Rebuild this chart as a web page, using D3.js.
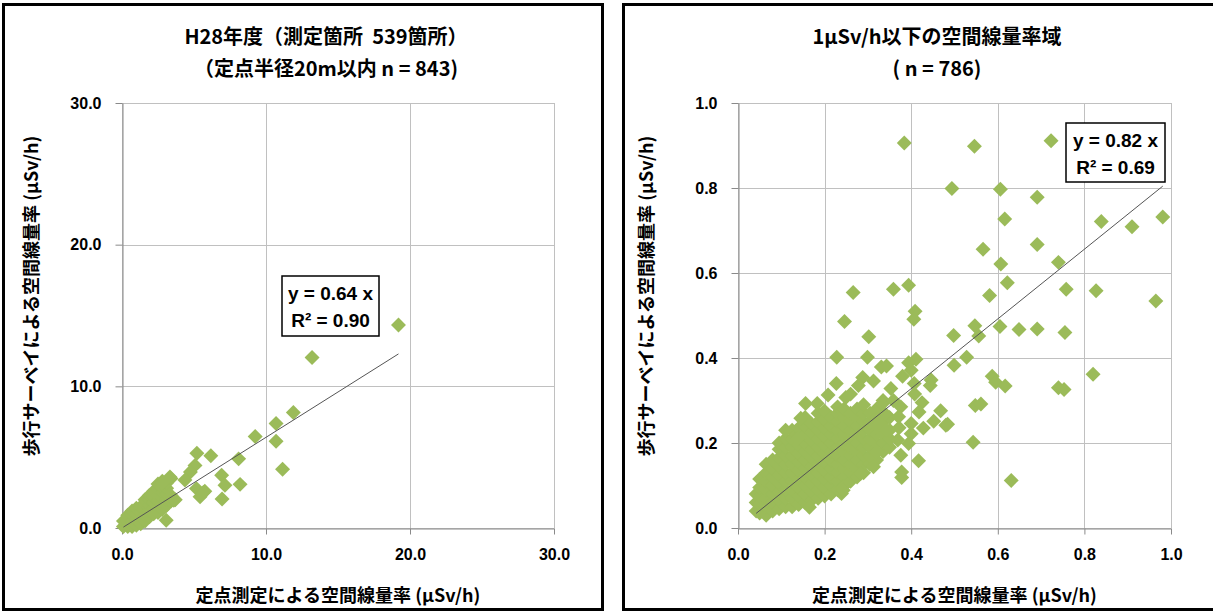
<!DOCTYPE html>
<html><head><meta charset="utf-8">
<script src="https://cdn.jsdelivr.net/npm/d3@7"></script>
<style>body{margin:0;background:#fff}svg{display:block}</style>
</head><body><svg id="c" width="1213" height="612"></svg>
<script>
// ---------- DATA ----------
const leftTicks = [0, 10, 20, 30];
const rightTicks = [0, 0.2, 0.4, 0.6, 0.8, 1.0];
const leftTitle = ["H28年度（測定箇所\u00a0\u00a0539箇所）", "（定点半径20m以内\u00a0n = 843)"];
const rightTitle = ["1μSv/h以下の空間線量率域", "( n = 786)"];
const xAxisTitle = "定点測定による空間線量率\u00a0(μSv/h)";
const yAxisTitle = "歩行サーベイによる空間線量率\u00a0(μSv/h)";
const leftFit = ["y = 0.64 x", "R² = 0.90"];
const rightFit = ["y = 0.82 x", "R² = 0.69"];
const leftSlope = 0.64;
const rightSlope = 0.82;

const leftOutliers = [
  [19.2,14.33],[13.2,12.04],[11.9,8.15],[10.7,7.38],[10.7,6.12],[11.15,4.15],
  [9.25,6.46],[8.1,4.88],[8.2,3.08],[6.92,3.72],[7.15,3.02],[6.95,2.05],
  [6.17,5.1],[5.2,5.28],[5.07,4.42],[4.75,3.95],[4.37,3.38],[5.17,2.78],
  [5.65,2.5],[5.42,2.2],[5.75,2.6],[3.33,3.6],[3.07,0.54],[3.6,1.96],[2.8,3.2]
];
// cluster near origin: [x, [y values]]
const leftCluster = [
  [0.1,[0.1,0.5]],[0.4,[0.1,0.5,0.9]],[0.7,[0.1,0.5,0.9,1.2]],
  [1.0,[0.2,0.6,1.0,1.4]],[1.3,[0.3,0.7,1.1,1.5]],[1.6,[0.5,0.9,1.3,1.7,2.0]],
  [1.9,[0.8,1.2,1.6,2.0,2.3]],[2.2,[1.0,1.4,1.8,2.2,2.6]],
  [2.5,[1.1,1.5,1.9,2.3,2.7,3.1]],[2.8,[1.3,1.7,2.1,2.5,2.9,3.3]],
  [3.1,[1.6,2.0,2.4,2.8,3.2]],[3.4,[1.9,2.3,3.5]],[3.7,[2.0]]
];

const rightOutliers = [
  [0.384,0.906],[0.546,0.898],[0.723,0.911],[0.494,0.799],[0.606,0.797],[0.691,0.778],
  [0.839,0.721],[0.981,0.732],[0.910,0.709],[0.616,0.727],[0.566,0.656],[0.691,0.667],
  [0.607,0.621],[0.740,0.625],[0.622,0.577],[0.758,0.562],[0.827,0.558],[0.965,0.534],
  [0.581,0.547],[0.394,0.571],[0.359,0.562],[0.266,0.554],[0.246,0.486],[0.409,0.510],
  [0.406,0.491],[0.302,0.450],[0.498,0.453],[0.547,0.476],[0.556,0.452],[0.605,0.474],
  [0.649,0.467],[0.691,0.468],[0.755,0.460],[0.528,0.402],[0.499,0.383],[0.820,0.362],
  [0.587,0.357],[0.595,0.343],[0.617,0.334],[0.740,0.330],[0.753,0.326],[0.548,0.288],
  [0.561,0.292],[0.543,0.202],[0.631,0.112],[0.228,0.402],[0.299,0.402],[0.227,0.340],
  [0.411,0.397],[0.394,0.389],[0.331,0.379],[0.343,0.381],[0.400,0.371],[0.380,0.357],
  [0.407,0.340],[0.408,0.315],[0.446,0.348],[0.444,0.335],[0.353,0.328],[0.313,0.346],
  [0.288,0.354],[0.278,0.335],[0.425,0.295],[0.418,0.273],[0.468,0.276],[0.484,0.244],
  [0.452,0.251],[0.428,0.235],[0.376,0.285],[0.340,0.268],[0.400,0.246],[0.372,0.236],
  [0.400,0.222],[0.376,0.171],[0.417,0.158],[0.378,0.132],[0.378,0.119],[0.394,0.199],
  [0.320,0.179],[0.313,0.144],[0.283,0.128],[0.243,0.097],[0.239,0.081],[0.165,0.049],
  [0.156,0.293],[0.183,0.293],[0.208,0.313],[0.110,0.230],[0.145,0.258],[0.137,0.210],
  [0.249,0.307],[0.260,0.315],[0.334,0.293],[0.328,0.246],[0.343,0.230],[0.369,0.207],
  [0.480,0.242],[0.243,0.089],[0.359,0.300],[0.371,0.262]
];
// dense cluster: [x, [y values]]
const rightCluster = [
  [0.042,[0.04,0.06,0.08]],
  [0.05,[0.035,0.055,0.075,0.095,0.115]],
  [0.065,[0.03,0.05,0.07,0.09,0.11,0.13,0.15]],
  [0.08,[0.04,0.06,0.08,0.10,0.12,0.14,0.16]],
  [0.095,[0.045,0.065,0.085,0.105,0.125,0.145,0.165,0.185,0.2]],
  [0.11,[0.05,0.07,0.09,0.11,0.13,0.15,0.17,0.19,0.21]],
  [0.125,[0.05,0.07,0.09,0.11,0.13,0.15,0.17,0.19,0.21,0.23]],
  [0.14,[0.055,0.075,0.095,0.115,0.135,0.155,0.175,0.195,0.215,0.235]],
  [0.155,[0.06,0.08,0.10,0.12,0.14,0.16,0.18,0.20,0.22,0.24,0.26]],
  [0.17,[0.065,0.085,0.105,0.125,0.145,0.165,0.185,0.205,0.225,0.245]],
  [0.185,[0.07,0.09,0.11,0.13,0.15,0.17,0.19,0.21,0.23,0.25,0.27]],
  [0.20,[0.075,0.095,0.115,0.135,0.155,0.175,0.195,0.215,0.235,0.255,0.275]],
  [0.215,[0.08,0.10,0.12,0.14,0.16,0.18,0.20,0.22,0.24,0.26]],
  [0.23,[0.09,0.11,0.13,0.15,0.17,0.19,0.21,0.23,0.25,0.27,0.285]],
  [0.245,[0.10,0.12,0.14,0.16,0.18,0.20,0.22,0.24,0.26,0.28]],
  [0.26,[0.11,0.13,0.15,0.17,0.19,0.21,0.23,0.25,0.27]],
  [0.275,[0.12,0.14,0.16,0.18,0.20,0.22,0.24,0.26,0.28]],
  [0.29,[0.13,0.15,0.17,0.19,0.21,0.23,0.25,0.27,0.29]],
  [0.305,[0.15,0.17,0.19,0.21,0.23,0.25,0.27]],
  [0.32,[0.16,0.18,0.20,0.22,0.24,0.26,0.28]],
  [0.335,[0.18,0.20,0.22,0.25,0.27,0.30]],
  [0.35,[0.19,0.21,0.23,0.26]]
];

// ---------- LAYOUT ----------
const svg = d3.select("#c");
const COLOR = "#9BBB59";
const numFont = "'Liberation Sans', Arial, sans-serif";
const jpFont = "'Noto Sans CJK JP', 'Noto Sans', sans-serif";

function flatten(cluster){ return cluster.flatMap(([x, ys]) => ys.map(y => [x, y])); }

const panels = [
  { frame:[3.5,4.5,599,605], plot:{x0:122,x1:554,y0:528,y1:103}, max:30, ticks:leftTicks,
    pts: flatten(leftCluster).concat(leftOutliers), slope:leftSlope, title:leftTitle, titleX:326,
    fit:leftFit, box:[282,276,97,60], yTitleX:31 },
  { frame:[623.5,4.5,620,605], plot:{x0:738,x1:1171,y0:528,y1:103}, max:1.0, ticks:rightTicks,
    pts: flatten(rightCluster).concat(rightOutliers), slope:rightSlope, title:rightTitle, titleX:937,
    fit:rightFit, box:[1066,123,99,59], yTitleX:646 }
];

panels.forEach(p => {
  const g = svg.append("g");
  g.append("rect").attr("x",p.frame[0]).attr("y",p.frame[1]).attr("width",p.frame[2]).attr("height",p.frame[3])
    .attr("fill","#fff").attr("stroke","#000").attr("stroke-width",3);

  const x = d3.scaleLinear().domain([0,p.max]).range([p.plot.x0,p.plot.x1]);
  const y = d3.scaleLinear().domain([0,p.max]).range([p.plot.y0,p.plot.y1]);

  // gridlines
  g.append("g").selectAll("line.v").data(p.ticks).join("line")
    .attr("x1",d=>Math.round(x(d))+0.5).attr("x2",d=>Math.round(x(d))+0.5)
    .attr("y1",p.plot.y0).attr("y2",p.plot.y1).attr("stroke","#c0c0c0").attr("stroke-width",1);
  g.append("g").selectAll("line.h").data(p.ticks).join("line")
    .attr("y1",d=>Math.round(y(d))+0.5).attr("y2",d=>Math.round(y(d))+0.5)
    .attr("x1",p.plot.x0).attr("x2",p.plot.x1).attr("stroke","#c0c0c0").attr("stroke-width",1);

  // axes
  const fmt = d3.format(".1f");
  const ax = g.append("g").attr("transform",`translate(0,${p.plot.y0+0.5})`)
    .call(d3.axisBottom(x).tickValues(p.ticks).tickFormat(fmt).tickSize(6).tickSizeOuter(0).tickPadding(14));
  const ay = g.append("g").attr("transform",`translate(${p.plot.x0+0.5},0)`)
    .call(d3.axisLeft(y).tickValues(p.ticks).tickFormat(fmt).tickSize(7).tickSizeOuter(0).tickPadding(14));
  [ax,ay].forEach(a=>{
    a.select(".domain").attr("stroke","#8a8a8a");
    a.selectAll(".tick line").attr("stroke","#8a8a8a");
    a.selectAll(".tick text").attr("font-family",numFont).attr("font-weight","bold")
      .attr("font-size",16).attr("fill","#000");
  });

  // points
  const sym = d3.symbol(d3.symbolSquare).size(112);
  g.append("g").selectAll("path").data(p.pts).join("path")
    .attr("d",sym).attr("fill",COLOR)
    .attr("transform",d=>`translate(${x(d[0])},${y(d[1])}) rotate(45)`);

  // trendline
  const ext = d3.extent(p.pts,d=>d[0]);
  g.append("line").attr("x1",x(ext[0])).attr("y1",y(ext[0]*p.slope))
    .attr("x2",x(ext[1])).attr("y2",y(ext[1]*p.slope))
    .attr("stroke","#555").attr("stroke-width",1);

  // fit label box
  const [bx,by,bw,bh] = p.box;
  g.append("rect").attr("x",bx).attr("y",by).attr("width",bw).attr("height",bh)
    .attr("fill","#fff").attr("stroke","#000").attr("stroke-width",1.5);
  p.fit.forEach((t,i)=>{
    g.append("text").attr("x",bx+bw/2).attr("y",by+24+i*27).attr("text-anchor","middle")
      .attr("font-family",numFont).attr("font-weight","bold").attr("font-size",19).text(t);
  });

  // titles
  p.title.forEach((t,i)=>{
    g.append("text").attr("x",p.titleX).attr("y",44+i*32).attr("text-anchor","middle")
      .attr("font-family",jpFont).attr("font-weight","bold").attr("font-size",20).text(t);
  });
  g.append("text").attr("x",(p.plot.x0+p.plot.x1)/2).attr("y",602).attr("text-anchor","middle")
    .attr("font-family",jpFont).attr("font-weight","bold").attr("font-size",18).text(xAxisTitle);
  g.append("text").attr("transform",`translate(${p.yTitleX+7},296) rotate(-90)`).attr("text-anchor","middle")
    .attr("font-family",jpFont).attr("font-weight","bold").attr("font-size",18).text(yAxisTitle);
});
</script></body></html>
